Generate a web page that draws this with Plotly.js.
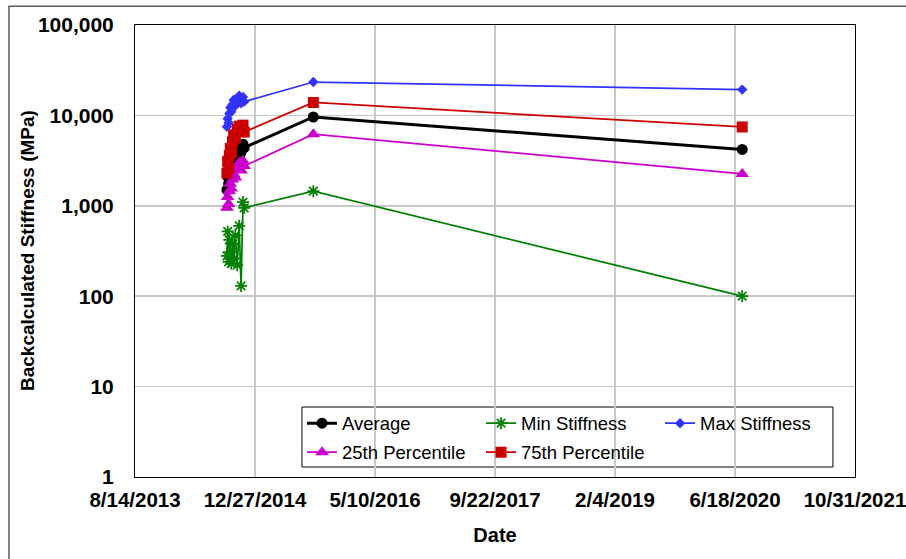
<!DOCTYPE html>
<html>
<head>
<meta charset="utf-8">
<script src="https://cdn.plot.ly/plotly-3.0.1.min.js"></script>
<style>
  html, body { margin: 0; padding: 0; background: #fff; }
  #chart { width: 906px; height: 559px; }
</style>
</head>
<body>
<div id="chart"></div>
<script>
// ---- data ----
const dates = ['2014-09-01','2014-09-04','2014-09-08','2014-09-11','2014-09-15','2014-09-19','2014-09-24','2014-09-29',
               '2014-10-06','2014-10-14','2014-10-22','2014-10-30','2014-11-07','2014-11-12','2015-08-27','2020-07-18'];
const average = [1500, 2100, 1750, 2400, 2900, 2600, 3100, 3700, 3300, 4100, 4600, 3900, 4800, 4400, 9600, 4200];
const minStiffness = [280, 520, 240, 420, 310, 230, 380, 260, 470, 220, 600, 130, 1100, 950, 1450, 100];
const maxStiffness = [7500, 9200, 8300, 10500, 12200, 11000, 13200, 14800, 12800, 15500, 16500, 13600, 16000, 14200, 23400, 19300];
const p25 = [950, 1250, 1050, 1450, 1750, 1550, 1950, 2250, 2050, 2650, 3000, 2450, 3150, 2750, 6200, 2250];
const p75 = [2300, 3100, 2600, 3600, 4300, 3900, 5100, 6100, 5600, 7000, 7600, 6600, 7800, 6550, 13900, 7450];

const xTickVals = ['2013-08-14','2014-12-27','2016-05-10','2017-09-22','2019-02-04','2020-06-18','2021-10-31'];
const xTickText = ['8/14/2013','12/27/2014','5/10/2016','9/22/2017','2/4/2019','6/18/2020','10/31/2021'];
const yTickVals = [1, 10, 100, 1000, 10000, 100000];
const yTickText = ['1','10','100','1,000','10,000','100,000'];

const FONT = 'Liberation Sans, Arial, sans-serif';

function series(name, y, color, lw, symbol, size, legend, extraMarker) {
  return {
    type: 'scatter', mode: 'lines+markers', name: name, x: dates, y: y,
    line: {color: color, width: lw},
    marker: Object.assign({color: color, symbol: symbol, size: size}, extraMarker || {}),
    legend: legend
  };
}

const traces = [
  series('Average', average, '#000000', 3, 'circle', 11, 'legend'),
  series('Min Stiffness', minStiffness, '#008000', 1.75, 'asterisk-open', 10, 'legend', {line: {color: '#008000', width: 1.75}}),
  series('Max Stiffness', maxStiffness, '#3333FF', 1.75, 'diamond', 8, 'legend'),
  series('25th Percentile', p25, '#CC00CC', 1.75, 'triangle-up', 12, 'legend2'),
  series('75th Percentile', p75, '#CC0000', 1.75, 'square', 11, 'legend2')
];

const legendCommon = {
  orientation: 'h', xanchor: 'left', yanchor: 'top',
  bgcolor: 'rgba(0,0,0,0)', borderwidth: 0,
  font: {family: FONT, size: 18.5, color: '#000'},
  entrywidth: 134, entrywidthmode: 'pixels', itemwidth: 30, tracegroupgap: 0
};

const layout = {
  width: 906, height: 559,
  margin: {l: 135, r: 51, t: 25, b: 82},
  paper_bgcolor: '#ffffff', plot_bgcolor: '#ffffff',
  font: {family: FONT, color: '#000'},
  xaxis: {
    type: 'date',
    range: ['2013-08-14', '2021-10-31'],
    tickmode: 'array', tickvals: xTickVals, ticktext: xTickText,
    tickfont: {family: FONT, size: 20.5, weight: 'bold', color: '#000'},
    ticklabelstandoff: 4,
    ticklabeloverflow: 'allow',
    showgrid: true, gridcolor: '#C8C8C8', gridwidth: 1.5,
    showline: true, linecolor: '#000', linewidth: 1, mirror: true,
    ticks: '', zeroline: false,
    title: {text: 'Date', font: {family: FONT, size: 20, weight: 'bold', color: '#000'}, standoff: 18}
  },
  yaxis: {
    type: 'log',
    range: [0, 5],
    tickmode: 'array', tickvals: yTickVals, ticktext: yTickText,
    tickfont: {family: FONT, size: 21, weight: 'bold', color: '#000'},
    ticklabelstandoff: 16,
    showgrid: true, gridcolor: '#C8C8C8', gridwidth: 1.5,
    showline: true, linecolor: '#000', linewidth: 1, mirror: true,
    ticks: '', zeroline: false
  },
  annotations: [
    {text: 'Backcalculated Stiffness (MPa)', xref: 'paper', yref: 'paper', x: -0.150, y: 0.5,
     xanchor: 'center', yanchor: 'middle', textangle: -90, showarrow: false,
     font: {family: FONT, size: 19, weight: 'bold', color: '#000'}}
  ],
  showlegend: true,
  legend: Object.assign({}, legendCommon, {x: 0.232, y: 0.160}),
  legend2: Object.assign({}, legendCommon, {x: 0.232, y: 0.096}),
  shapes: [
    // legend frame
    {type: 'rect', xref: 'paper', yref: 'paper', x0: 0.2319, x1: 0.9694, y0: 0.0221, y1: 0.1548,
     line: {color: '#000', width: 1}, fillcolor: 'rgba(255,255,255,1)', layer: 'below'},
    // outer chart border (only top and left visible in frame)
    {type: 'rect', xref: 'paper', yref: 'paper', x0: -0.175, x1: 1.2, y0: -0.4, y1: 1.0413,
     line: {color: '#595959', width: 1.5}, layer: 'above'}
  ]
};

Plotly.newPlot('chart', traces, layout, {displayModeBar: false, staticPlot: true});
</script>
</body>
</html>
